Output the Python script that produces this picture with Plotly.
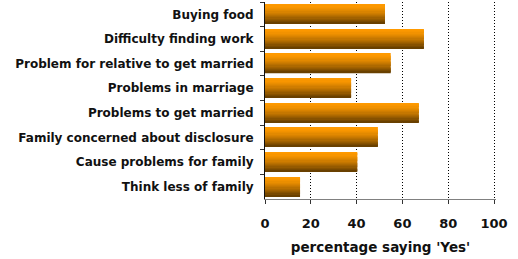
import plotly.graph_objects as go

categories = [
    "Buying food",
    "Difficulty finding work",
    "Problem for relative to get married",
    "Problems in marriage",
    "Problems to get married",
    "Family concerned about disclosure",
    "Cause problems for family",
    "Think less of family",
]
values = [52.4, 69.4, 54.9, 37.6, 67.2, 49.3, 40.3, 15.3]
x_ticks = [0, 20, 40, 60, 80, 100]
x_title = "percentage saying 'Yes'"

# gradient simulation: stacked thin slices of each bar
top_rgb = (255, 154, 0)
bot_rgb = (105, 64, 0)
n_slices = 16
bar_w = 0.78
step = bar_w / n_slices

fig = go.Figure()
for i in range(n_slices):
    t = i / (n_slices - 1)
    t = t ** 1.5
    c = tuple(int(round(top_rgb[k] + (bot_rgb[k] - top_rgb[k]) * t)) for k in range(3))
    w = step * 1.25 if i < n_slices - 1 else step
    fig.add_trace(go.Bar(
        x=values, y=categories, orientation="h",
        width=w, offset=-bar_w / 2 + i * step,
        marker=dict(color="rgb(%d,%d,%d)" % c, line=dict(width=0)),
        showlegend=False, hoverinfo="x+y",
    ))

bold = dict(family="DejaVu Sans", color="#111111", weight="bold")

plot_len = 518 - 265 - 22
fig.update_layout(
    width=518, height=259,
    margin=dict(l=265, r=22, t=2, b=60),
    paper_bgcolor="white", plot_bgcolor="white",
    barmode="overlay",
    xaxis=dict(
        range=[0, 100 * plot_len / 229], tickvals=x_ticks,
        showgrid=True, gridcolor="black", griddash="1px,2px", gridwidth=1,
        zeroline=False,
        showline=True, linecolor="#808080", linewidth=1,
        ticks="outside", ticklen=4, tickcolor="#333333",
        ticklabelstandoff=8,
        tickfont=dict(size=13, **bold),
        title=dict(text=x_title, font=dict(size=13.5, **bold), standoff=12),
    ),
    yaxis=dict(
        autorange="reversed",
        showgrid=False, zeroline=False,
        showline=True, linecolor="#111111", linewidth=1,
        ticks="outside", ticklen=4, tickcolor="#333333",
        tickson="boundaries",
        ticklabelstandoff=8,
        tickfont=dict(size=12, **bold),
    ),
)

fig.write_html("out.html", config={"displayModeBar": False},
               post_script="document.body.style.margin='0';")
